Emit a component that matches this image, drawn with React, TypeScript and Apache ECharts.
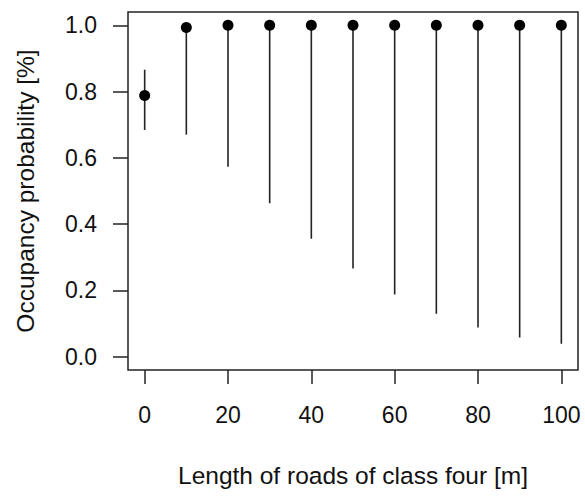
import React, { useEffect, useRef } from "react";
import * as echarts from "echarts";

const xValues = [0, 10, 20, 30, 40, 50, 60, 70, 80, 90, 100];
const meanValues = [0.788, 0.993, 1.0, 1.0, 1.0, 1.0, 1.0, 1.0, 1.0, 1.0, 1.0];
const lowerValues = [0.684, 0.670, 0.573, 0.463, 0.356, 0.266, 0.188, 0.130, 0.088, 0.058, 0.039];
const upperValues = [0.866, 1.0, 1.0, 1.0, 1.0, 1.0, 1.0, 1.0, 1.0, 1.0, 1.0];
const xTicks = [0, 20, 40, 60, 80, 100];
const yTicks = [0, 0.2, 0.4, 0.6, 0.8, 1.0];
const xTitle = "Length of roads of class four [m]";
const yTitle = "Occupancy probability [%]";

const FONT = "'Liberation Sans', Arial, sans-serif";
const INK = "#222";

export default function App() {
  const ref = useRef<HTMLDivElement>(null);
  useEffect(() => {
    if (!ref.current) return;
    const chart = echarts.init(ref.current, null, { renderer: "svg" });
    const barData = xValues.map((x, i) => [x, lowerValues[i], upperValues[i]]);
    const pointData = xValues.map((x, i) => [x, meanValues[i]]);
    chart.setOption({
      animation: false,
      backgroundColor: "#fff",
      grid: {
        left: 128,
        right: 7,
        top: 12,
        bottom: 127,
        show: true,
        borderColor: INK,
        borderWidth: 1.5,
        backgroundColor: "transparent",
      },
      xAxis: {
        type: "value",
        min: -4,
        max: 104,
        name: xTitle,
        nameLocation: "middle",
        nameGap: 93,
        nameTextStyle: { fontFamily: FONT, fontSize: 24.5, color: "#111" },
        axisLine: { show: false, onZero: false },
        splitLine: { show: false },
        axisTick: {
          show: true,
          inside: false,
          length: 14,
          customValues: xTicks,
          lineStyle: { color: INK, width: 1.5 },
        },
        axisLabel: {
          customValues: xTicks,
          margin: 33,
          fontFamily: FONT,
          fontSize: 23,
          color: "#111",
        },
      },
      yAxis: {
        type: "value",
        min: -0.04,
        max: 1.04,
        name: yTitle,
        nameLocation: "middle",
        nameGap: 90,
        nameTextStyle: { fontFamily: FONT, fontSize: 24.5, color: "#111" },
        axisLine: { show: false, onZero: false },
        splitLine: { show: false },
        axisTick: {
          show: true,
          inside: false,
          length: 15,
          customValues: yTicks,
          lineStyle: { color: INK, width: 1.5 },
        },
        axisLabel: {
          customValues: yTicks,
          margin: 31,
          fontFamily: FONT,
          fontSize: 23,
          color: "#111",
          formatter: (v: number) => v.toFixed(1),
        },
      },
      series: [
        {
          type: "custom",
          data: barData,
          encode: { x: 0, y: [1, 2] },
          renderItem: (_params: any, api: any) => {
            const x = api.value(0);
            const p1 = api.coord([x, api.value(1)]);
            const p2 = api.coord([x, api.value(2)]);
            return {
              type: "line",
              shape: { x1: p1[0], y1: p1[1], x2: p2[0], y2: p2[1] },
              style: { stroke: INK, lineWidth: 1.6 },
            };
          },
          z: 2,
        },
        {
          type: "scatter",
          data: pointData,
          symbol: "circle",
          symbolSize: 11,
          itemStyle: { color: "#000", opacity: 1 },
          emphasis: { disabled: true },
          z: 3,
        },
      ],
    });
    return () => chart.dispose();
  }, []);
  return (
    <div
      ref={ref}
      style={{ position: "fixed", left: 0, top: 0, width: 585, height: 497, background: "#fff" }}
    />
  );
}
